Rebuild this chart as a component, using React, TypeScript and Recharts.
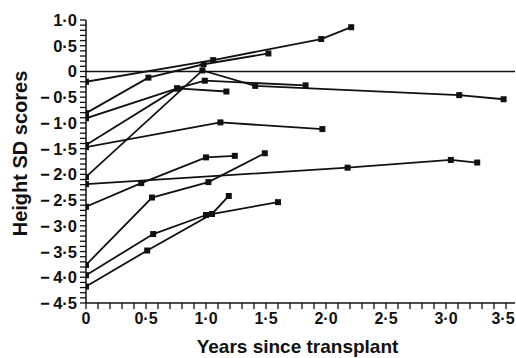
import React from 'react';
import { LineChart, Line, XAxis, YAxis, ReferenceLine, Label } from 'recharts';

// Tick values
const xMajorTicks = [0, 0.5, 1, 1.5, 2, 2.5, 3, 3.5];
const xAllTicks = [
  0, 0.1, 0.2, 0.3, 0.4, 0.5, 0.6, 0.7, 0.8, 0.9, 1.0, 1.1, 1.2, 1.3, 1.4, 1.5, 1.6, 1.7,
  1.8, 1.9, 2.0, 2.1, 2.2, 2.3, 2.4, 2.5, 2.6, 2.7, 2.8, 2.9, 3.0, 3.1, 3.2, 3.3, 3.4, 3.5,
];
const yMajorTicks = [1, 0.5, 0, -0.5, -1, -1.5, -2, -2.5, -3, -3.5, -4, -4.5];
const yAllTicks = [
  1.0, 0.9, 0.8, 0.7, 0.6, 0.5, 0.4, 0.3, 0.2, 0.1, 0, -0.1, -0.2, -0.3, -0.4, -0.5, -0.6,
  -0.7, -0.8, -0.9, -1.0, -1.1, -1.2, -1.3, -1.4, -1.5, -1.6, -1.7, -1.8, -1.9, -2.0, -2.1,
  -2.2, -2.3, -2.4, -2.5, -2.6, -2.7, -2.8, -2.9, -3.0, -3.1, -3.2, -3.3, -3.4, -3.5, -3.6,
  -3.7, -3.8, -3.9, -4.0, -4.1, -4.2, -4.3, -4.4, -4.5,
];

// Patients: years since transplant (x) vs height SD score (y)
const patientA = [{ x: 0, y: -0.2 }, { x: 1.06, y: 0.22 }, { x: 1.96, y: 0.63 }, { x: 2.21, y: 0.86 }];
const patientB = [{ x: 0, y: -0.81 }, { x: 0.52, y: -0.12 }, { x: 0.98, y: 0.14 }, { x: 1.52, y: 0.35 }];
const patientC = [{ x: 0, y: -0.91 }, { x: 0.76, y: -0.33 }, { x: 1.17, y: -0.39 }];
const patientD = [{ x: 0, y: -1.43 }, { x: 0.76, y: -0.33 }, { x: 0.99, y: -0.18 }, { x: 1.83, y: -0.27 }];
const patientE = [{ x: 0, y: -2.05 }, { x: 0.97, y: 0.02 }, { x: 1.41, y: -0.28 }, { x: 3.11, y: -0.46 }, { x: 3.48, y: -0.54 }];
const patientG = [{ x: 0, y: -1.47 }, { x: 1.12, y: -0.99 }, { x: 1.97, y: -1.12 }];
const patientH = [{ x: 0, y: -2.19 }, { x: 2.18, y: -1.87 }, { x: 3.04, y: -1.72 }, { x: 3.26, y: -1.77 }];
const patientI = [{ x: 0, y: -2.63 }, { x: 0.46, y: -2.17 }, { x: 1.0, y: -1.67 }, { x: 1.24, y: -1.64 }];
const patientJ = [{ x: 0, y: -3.76 }, { x: 0.55, y: -2.45 }, { x: 1.02, y: -2.15 }, { x: 1.49, y: -1.59 }];
const patientK = [{ x: 0, y: -3.96 }, { x: 0.56, y: -3.16 }, { x: 1.0, y: -2.79 }, { x: 1.6, y: -2.54 }];
const patientL = [{ x: 0, y: -4.18 }, { x: 0.51, y: -3.48 }, { x: 1.05, y: -2.77 }, { x: 1.19, y: -2.42 }];

const patients = [patientA, patientB, patientC, patientD, patientE, patientG, patientH, patientI, patientJ, patientK, patientL];

const FONT = '"Liberation Sans", Arial, Helvetica, sans-serif';
const INK = '#111';
const CHART_W = 516;

const isIn = (v: number, list: number[]) => list.some((m) => Math.abs(m - v) < 1e-6);

const fmt = (v: number) => {
  if (Math.abs(v) < 1e-9) return '0';
  const s = Math.abs(v).toFixed(1).replace('.', '\u00B7');
  return v < 0 ? '\u2212\u2009' + s : s;
};

const XTick = (props: any) => {
  const { x, y, payload } = props;
  const v = payload.value;
  const major = isIn(v, xMajorTicks);
  // keep the label inside the picture (half width ~12px)
  const lx = Math.min(x, CHART_W - 13);
  return (
    <g>
      <line x1={x} y1={y} x2={x} y2={y + 6} stroke={INK} strokeWidth={1.3} />
      {major && (
        <text x={lx} y={y + 21} textAnchor="middle" fontFamily={FONT} fontWeight="bold" fontSize={16} fill={INK}>
          {fmt(v)}
        </text>
      )}
    </g>
  );
};

const YTick = (props: any) => {
  const { x, y, payload } = props;
  const v = payload.value;
  const major = isIn(v, yMajorTicks);
  return (
    <g>
      <line x1={x} y1={y} x2={x - 6} y2={y} stroke={INK} strokeWidth={1.3} />
      {major && (
        <text x={x - 9} y={y + 6} textAnchor="end" fontFamily={FONT} fontWeight="bold" fontSize={16.5} fill={INK}>
          {fmt(v)}
        </text>
      )}
    </g>
  );
};

const SquareDot = (props: any) => {
  const { cx, cy } = props;
  if (cx == null || cy == null) return null;
  return <rect x={cx - 3} y={cy - 3} width={6} height={6} fill={INK} />;
};

export default function App() {
  return (
    <div style={{ position: 'absolute', left: 0, top: 0, background: '#fff' }}>
      <LineChart width={CHART_W} height={358} margin={{ top: 20, right: 1, left: 0, bottom: 0 }}>
        <XAxis
          type="number"
          dataKey="x"
          domain={[0, 3.575]}
          allowDataOverflow
          ticks={xAllTicks}
          interval={0}
          tickSize={0}
          tickMargin={0}
          tickLine={false}
          tick={<XTick />}
          height={55}
          axisLine={{ stroke: INK, strokeWidth: 1.5 }}
        >
          <Label
            content={(p: any) => {
              const vb = p.viewBox || {};
              const cx = vb.x + vb.width / 2 - 3;
              return (
                <text x={cx} y={353} textAnchor="middle" fontFamily={FONT} fontWeight="bold" fontSize={19} fill={INK}>
                  Years since transplant
                </text>
              );
            }}
          />
        </XAxis>
        <YAxis
          type="number"
          dataKey="y"
          domain={[-4.5, 1]}
          allowDataOverflow
          ticks={yAllTicks}
          interval={0}
          tickSize={0}
          tickMargin={0}
          tickLine={false}
          tick={<YTick />}
          width={86}
          axisLine={{ stroke: INK, strokeWidth: 1.5 }}
        >
          <Label
            content={(p: any) => {
              const vb = p.viewBox || {};
              const cy = vb.y + vb.height / 2 - 8;
              return (
                <text
                  x={27}
                  y={cy}
                  transform={`rotate(-90 27 ${cy})`}
                  textAnchor="middle"
                  fontFamily={FONT}
                  fontWeight="bold"
                  fontSize={20}
                  fill={INK}
                >
                  Height SD scores
                </text>
              );
            }}
          />
        </YAxis>
        <ReferenceLine y={0} stroke={INK} strokeWidth={1.5} />
        {patients.map((d, i) => (
          <Line
            key={i}
            data={d}
            dataKey="y"
            type="linear"
            stroke={INK}
            strokeWidth={1.8}
            dot={<SquareDot />}
            activeDot={false}
            isAnimationActive={false}
          />
        ))}
      </LineChart>
    </div>
  );
}
